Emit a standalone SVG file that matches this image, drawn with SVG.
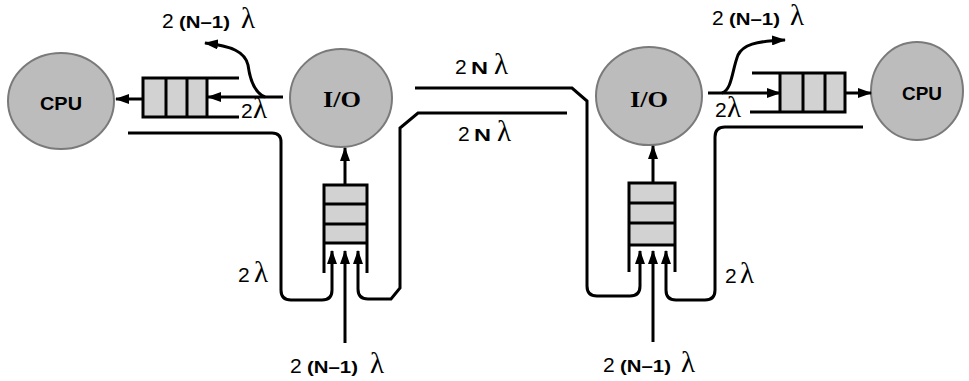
<svg xmlns="http://www.w3.org/2000/svg" width="969" height="381" viewBox="0 0 969 381">
<style>
.ln{stroke:#000;stroke-width:3;fill:none}
.node{fill:#bcbcbc;stroke:#7a7a7a;stroke-width:2}
.cell{fill:#d2d2d2;stroke:none}
.cpu{font-family:"Liberation Sans",Arial,sans-serif;font-weight:bold;font-size:18px;text-anchor:middle;fill:#000}
.io{font-family:"Liberation Serif","Times New Roman",serif;font-weight:bold;font-size:24px;text-anchor:middle;fill:#000}
.t{font-family:"Liberation Sans",Arial,sans-serif;font-size:21px;fill:#000}
.b{font-family:"Liberation Sans",Arial,sans-serif;font-weight:bold;font-size:17px}
.l{font-family:"Liberation Serif","Times New Roman",serif;font-size:29px}
</style>
<defs>
<marker id="ah" viewBox="0 0 14 10" refX="13" refY="5" markerWidth="14" markerHeight="10" orient="auto" markerUnits="userSpaceOnUse">
<path d="M0,0 L14,5 L0,10 z" fill="#000"/>
</marker>
</defs>

<g id="cpu-left">
<ellipse class="node" cx="61" cy="101" rx="53" ry="48"/>
<text class="cpu" x="61" y="110" textLength="42" lengthAdjust="spacingAndGlyphs">CPU</text>
</g>
<g id="io-left">
<ellipse class="node" cx="341" cy="98" rx="51" ry="49"/>
<text class="io" x="342" y="107" textLength="38" lengthAdjust="spacingAndGlyphs">I/O</text>
</g>
<g id="io-right">
<ellipse class="node" cx="649" cy="96" rx="53" ry="49"/>
<text class="io" x="649" y="107" textLength="38" lengthAdjust="spacingAndGlyphs">I/O</text>
</g>
<g id="cpu-right">
<ellipse class="node" cx="917" cy="91" rx="46" ry="49"/>
<text class="cpu" x="922" y="100" textLength="40" lengthAdjust="spacingAndGlyphs">CPU</text>
</g>

<g id="queue-cpu-left">
<rect class="cell" x="143" y="78" width="64" height="39"/>
<path class="ln" d="M239 78 H143 V117 H239 M166 78 V117 M187 78 V117 M207 78 V117"/>
</g>
<g id="queue-io-left">
<rect class="cell" x="324" y="185" width="43" height="58"/>
<path class="ln" d="M324 273 V185 H367 V273 M324 204 H367 M324 224 H367 M324 243 H367"/>
</g>
<g id="queue-io-right">
<rect class="cell" x="629" y="183" width="46" height="62"/>
<path class="ln" d="M629 272 V183 H675 V272 M629 203 H675 M629 223 H675 M629 245 H675"/>
</g>
<g id="queue-cpu-right">
<rect class="cell" x="780" y="73" width="65" height="39"/>
<path class="ln" d="M752 73 H845 V112 H750 M780 73 V112 M803 73 V112 M825 73 V112"/>
</g>

<g id="connectors">
<path class="ln" d="M143 99 H116" marker-end="url(#ah)"/>
<path class="ln" d="M283 97 H208" marker-end="url(#ah)"/>
<path class="ln" d="M265 97 C255 93 250 80 248 65 C245 52 232 46 205 43" marker-end="url(#ah)"/>
<path class="ln" d="M128 133 H272 Q281 133 281 142 V290 Q281 300 291 300 H322 Q332 300 332 290 V251" marker-end="url(#ah)"/>
<path class="ln" d="M345 343 V251" marker-end="url(#ah)"/>
<path class="ln" d="M567 113 H418 L400 128 V288 L391 299 H368 Q358 299 358 289 V251" marker-end="url(#ah)"/>
<path class="ln" d="M345 185 V148" marker-end="url(#ah)"/>
<path class="ln" d="M415 88 H572 L587 101 V286 Q587 296 597 296 H630 Q640 296 640 286 V251" marker-end="url(#ah)"/>
<path class="ln" d="M653 342 V251" marker-end="url(#ah)"/>
<path class="ln" d="M863 127 H725 Q715 127 715 137 V290 Q715 300 705 300 H676 Q666 300 666 290 V251" marker-end="url(#ah)"/>
<path class="ln" d="M653 183 V146" marker-end="url(#ah)"/>
<path class="ln" d="M708 93 H780" marker-end="url(#ah)"/>
<path class="ln" d="M722 93 C732 90 732 70 738 55 C743 45 755 41 785 40" marker-end="url(#ah)"/>
<path class="ln" d="M845 93 H871" marker-end="url(#ah)"/>
</g>

<g id="labels">
<text class="t" y="28"><tspan x="162">2</tspan><tspan class="b" x="179" textLength="51" lengthAdjust="spacingAndGlyphs">(N–1)</tspan><tspan class="l" x="241">λ</tspan></text>
<text class="t" y="25"><tspan x="712">2</tspan><tspan class="b" x="729" textLength="51" lengthAdjust="spacingAndGlyphs">(N–1)</tspan><tspan class="l" x="790">λ</tspan></text>
<text class="t" y="373"><tspan x="290">2</tspan><tspan class="b" x="307" textLength="51" lengthAdjust="spacingAndGlyphs">(N–1)</tspan><tspan class="l" x="370">λ</tspan></text>
<text class="t" y="372"><tspan x="603">2</tspan><tspan class="b" x="620" textLength="51" lengthAdjust="spacingAndGlyphs">(N–1)</tspan><tspan class="l" x="681">λ</tspan></text>
<text class="t" y="118"><tspan x="241">2</tspan><tspan class="l" x="253">λ</tspan></text>
<text class="t" y="117"><tspan x="715">2</tspan><tspan class="l" x="727">λ</tspan></text>
<text class="t" y="282"><tspan x="238">2</tspan><tspan class="l" x="254">λ</tspan></text>
<text class="t" y="283"><tspan x="725">2</tspan><tspan class="l" x="740">λ</tspan></text>
<text class="t" y="74"><tspan x="455">2</tspan><tspan class="b" x="471" textLength="17" lengthAdjust="spacingAndGlyphs">N</tspan><tspan class="l" x="494">λ</tspan></text>
<text class="t" y="141"><tspan x="458">2</tspan><tspan class="b" x="474" textLength="17" lengthAdjust="spacingAndGlyphs">N</tspan><tspan class="l" x="497">λ</tspan></text>
</g>
</svg>
